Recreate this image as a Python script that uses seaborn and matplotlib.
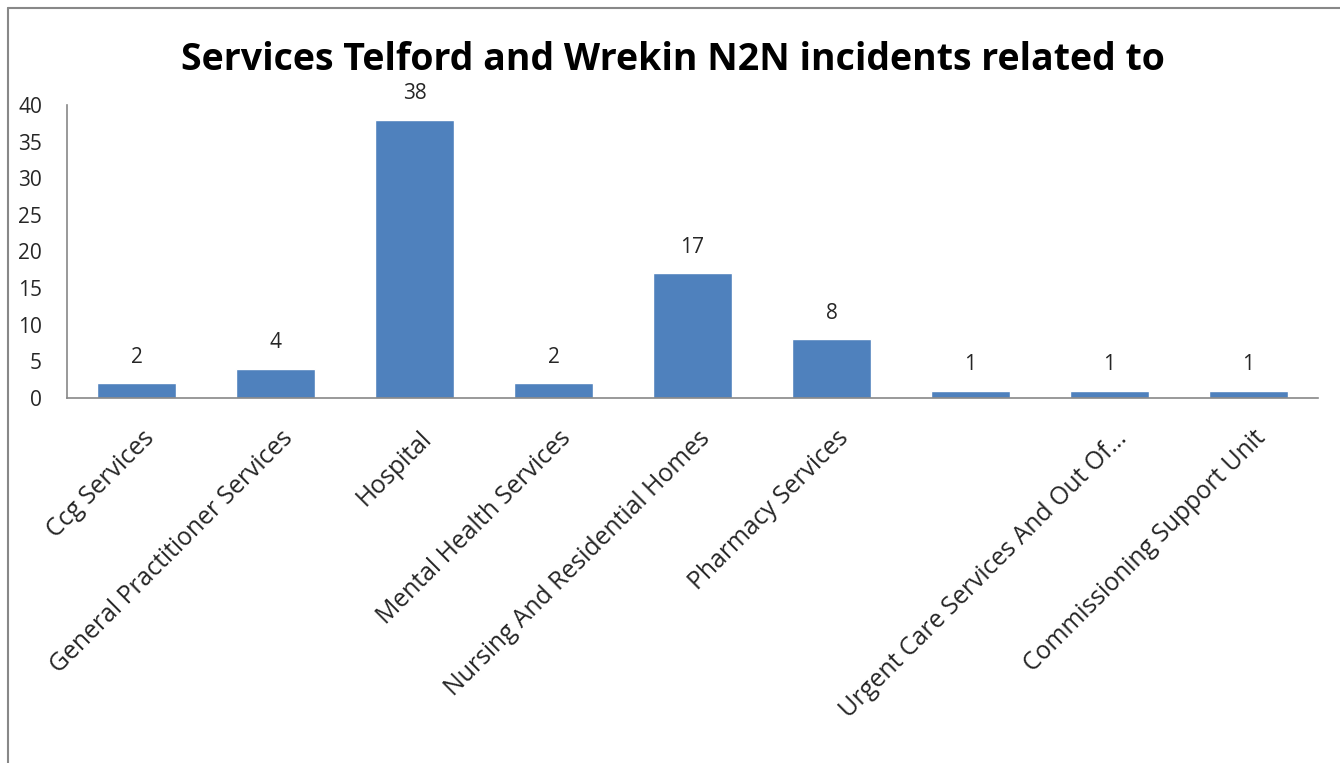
import matplotlib
matplotlib.use("Agg")
import matplotlib.pyplot as plt
import matplotlib.transforms as mtransforms
import seaborn as sns
import pandas as pd

categories = ["Ccg Services", "General Practitioner Services", "Hospital",
              "Mental Health Services", "Nursing And Residential Homes",
              "Pharmacy Services", "", "Urgent Care Services And Out Of...",
              "Commissioning Support Unit"]
values = [2, 4, 38, 2, 17, 8, 1, 1, 1]
yticks = [0, 5, 10, 15, 20, 25, 30, 35, 40]
title = "Services Telford and Wrekin N2N incidents related to"

sns.set_theme(style="white")
plt.rcParams['font.family'] = ['Open Sans', 'DejaVu Sans']

df = pd.DataFrame({"cat": [f"c{i}" for i in range(len(categories))], "val": values})

fig = plt.figure(figsize=(13.4, 7.63), dpi=100)
ax = fig.add_axes([67/1340, 1 - 398/763, (1318-67)/1340, (398-105)/763])
sns.barplot(data=df, x="cat", y="val", color="#4F81BD", saturation=1, width=0.575, ax=ax)

ax.set_ylim(0, 40)
ax.set_xlim(-0.5, len(categories) - 0.5)
ax.set_yticks(yticks)
ax.set_yticklabels([str(t) for t in yticks], fontsize=15, color="#262626")
ax.tick_params(axis="y", pad=18, length=0)
ax.set_xticks(range(len(categories)))
ax.set_xticklabels(categories, rotation=45, ha="right", rotation_mode="anchor",
                   fontsize=17.8, color="#262626")
ax.tick_params(axis="x", length=0, pad=20)
offset = mtransforms.ScaledTranslation(5/100, 0, fig.dpi_scale_trans)
for lbl in ax.get_xticklabels():
    lbl.set_transform(lbl.get_transform() + offset)
ax.set_xlabel("")
ax.set_ylabel("")
for s in ["top", "right"]:
    ax.spines[s].set_visible(False)
for s in ["left", "bottom"]:
    ax.spines[s].set_color("#888888")
    ax.spines[s].set_linewidth(1.2)

for i, v in enumerate(values):
    ax.annotate(str(v), (i, v), xytext=(0, 11), textcoords="offset points",
                ha="center", va="bottom", fontsize=15, color="#262626")

fig.text(0.5 * (178 + 1168) / 1340, 1 - 60/763, title, ha="center", va="center",
         fontsize=27, fontweight="bold", color="black")

# outer chart frame
fig.add_artist(plt.Line2D([8/1340, 8/1340], [0, 1 - 8/763], transform=fig.transFigure,
                          color="#888888", lw=1.5))
fig.add_artist(plt.Line2D([8/1340, 1], [1 - 8/763, 1 - 8/763], transform=fig.transFigure,
                          color="#888888", lw=1.5))

fig.savefig("out.png", dpi=100, facecolor="white")
